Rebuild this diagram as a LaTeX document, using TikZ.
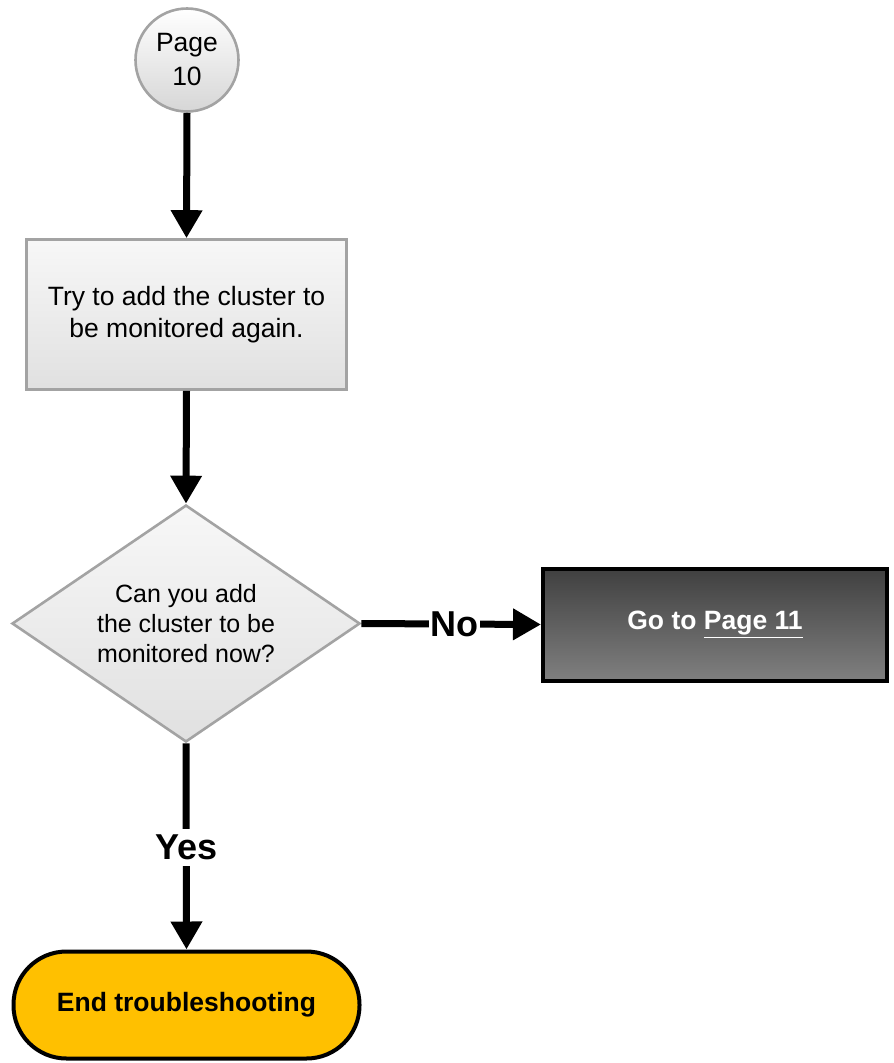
\documentclass[tikz,border=0pt]{standalone}
\usepackage{fontspec}
\setmainfont{Liberation Sans}
\usetikzlibrary{arrows.meta,shapes.geometric}

\definecolor{edgegray}{HTML}{A3A3A3}
\definecolor{endfill}{HTML}{FFC000}

\tikzset{
  flow/.style={line width=7pt, draw=black,
    -{Triangle[length=28pt,width=30pt]}},
  plain/.style={fill=white, draw=edgegray, line width=2.6pt,
    top color=white!97!black, bottom color=white!88!black},
  bodytext/.style={font=\fontsize{26.5}{32}\selectfont, align=center},
  golabel/.style={font=\bfseries\fontsize{36}{36}\selectfont,
    fill=white, inner xsep=1.5pt, inner ysep=6pt},
}

\begin{document}
\begin{tikzpicture}[x=1pt, y=-1pt]
  \useasboundingbox (0,0) rectangle (894,1063);

  % off-page entry connector
  \node[circle, plain, minimum size=103pt, inner sep=0pt,
        top color=white, bottom color=white!84!black,
        bodytext, font=\fontsize{26.5}{34}\selectfont]
    (start) at (187,60) {Page\\10};

  % process step
  \node[rectangle, plain, minimum width=320pt, minimum height=150pt,
        inner sep=0pt, bodytext]
    (retry) at (186.5,314.5) {Try to add the cluster to\\be monitored again.};

  % decision
  \node[diamond, aspect=1.47, plain, minimum width=348pt, minimum height=237pt,
        inner sep=0pt, bodytext, font=\fontsize{25}{30}\selectfont]
    (check) at (186,623.5) {Can you add\\the cluster to be\\monitored now?};

  % off-page exit
  \node[rectangle, draw=black, line width=4pt,
        top color=black!75, bottom color=black!50,
        minimum width=344pt, minimum height=112pt, inner sep=0pt,
        text=white, font=\bfseries\fontsize{26.5}{30}\selectfont]
    (next) at (715,624.5) {Go to \underline{Page 11}};

  % terminator
  \node[rectangle, rounded corners=53pt, draw=black, line width=4pt,
        fill=endfill, minimum width=346pt, minimum height=107pt,
        inner sep=0pt, font=\bfseries\fontsize{26.5}{30}\selectfont]
    (finish) at (186.5,1005) {End troubleshooting};

  % connectors
  \draw[flow] (start.south) -- (retry.north);
  \draw[flow] (retry.south) -- (check.north);
  \draw[flow] (check.east) -- (next.west)
    node[golabel, pos=0.52] {No};
  \draw[flow] (check.south) -- (finish.north)
    node[golabel, pos=0.505] {Yes};
\end{tikzpicture}
\end{document}
